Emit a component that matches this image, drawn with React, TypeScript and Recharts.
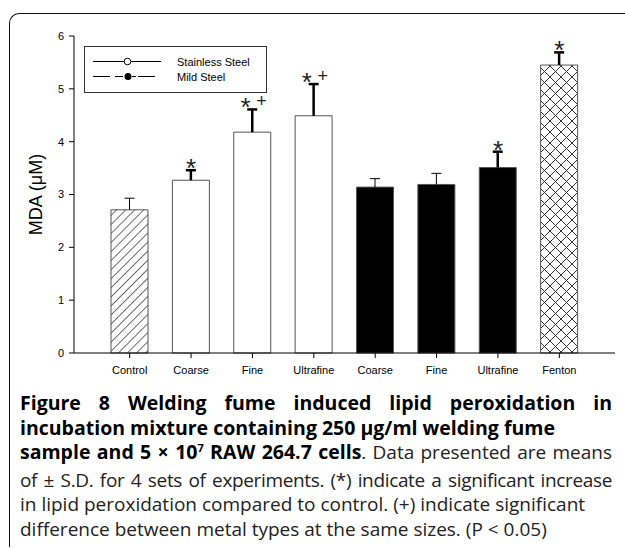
import React from "react"
import { Bar, Cell, ComposedChart, ErrorBar, LabelList, Legend, Line, XAxis, YAxis } from "recharts"

// values (MDA, µM)
const categories = ["Control", "Coarse", "Fine", "Ultrafine", "Coarse", "Fine", "Ultrafine", "Fenton"]
const groups = ["control", "stainless", "stainless", "stainless", "mild", "mild", "mild", "fenton"]
const means = [2.71, 3.27, 4.18, 4.49, 3.14, 3.19, 3.51, 5.45]
const sds = [0.22, 0.19, 0.43, 0.6, 0.16, 0.21, 0.3, 0.24]
const marks = ["", "*", "*+", "*+", "", "", "*", "*"]
const yTicks = [0, 1, 2, 3, 4, 5, 6]
const legendItems = ["Stainless Steel", "Mild Steel"]

const fills: Record<string, string> = {
    control: "url(#hatch)",
    stainless: "#ffffff",
    mild: "#000000",
    fenton: "url(#cross)"
}

const data = categories.map((name, i) => ({
    name,
    mean: means[i],
    thin: marks[i] ? null : [0, sds[i]],
    thick: marks[i] ? [0, sds[i]] : null,
    top: means[i] + sds[i],
    mark: marks[i]
}))

const font = "Arial, 'Liberation Sans', sans-serif"

const MarkLabel = (props: any) => {
    const { x, y, value } = props
    if (!value) return null
    const plus = value.includes("+")
    return (
        <g fontFamily={font} fill="#222">
            <text x={plus ? x - 7 : x} y={y + 7} fontSize={26} textAnchor="middle">*</text>
            {plus && <text x={x + 9} y={y - 2} fontSize={18} textAnchor="middle">+</text>}
        </g>
    )
}

const LegendBox = () => (
    <svg width={183} height={47} style={{ display: "block" }}>
        <rect x={0.5} y={0.5} width={182} height={46} fill="#fff" stroke="#333" />
        <line x1={9} y1={15.5} x2={77} y2={15.5} stroke="#000" />
        <circle cx={43.5} cy={15.5} r={3.3} fill="#fff" stroke="#000" />
        <g stroke="#000">
            <line x1={9} y1={30.5} x2={26} y2={30.5} />
            <line x1={31} y1={30.5} x2={39} y2={30.5} />
            <line x1={48} y1={30.5} x2={52} y2={30.5} />
            <line x1={54} y1={30.5} x2={71} y2={30.5} />
        </g>
        <circle cx={44} cy={30.5} r={3.5} fill="#000" />
        {legendItems.map((name, i) => (
            <text key={name} x={93} y={19.5 + i * 15} fontSize={11} fontFamily={font} fill="#000">{name}</text>
        ))}
    </svg>
)

const YLabel = (props: any) => {
    const vb = props.viewBox
    const cx = vb.x + 2
    const cy = vb.y + vb.height / 2
    return (
        <text x={cx} y={cy} transform={`rotate(-90 ${cx} ${cy})`} textAnchor="middle" dominantBaseline="central"
            fontSize={18} fontFamily={font} fill="#000">
            MDA (μM)
        </text>
    )
}

const line = { whiteSpace: "nowrap" as const }
const justified = { whiteSpace: "nowrap" as const, textAlign: "justify" as const, textAlignLast: "justify" as const }

export default function App() {
    return (
        <div style={{ position: "absolute", left: 0, top: 0, width: 625, height: 548, overflow: "hidden", background: "#fff" }}>
            <style>{`.recharts-errorBar line:nth-of-type(3){display:none}`}</style>
            <div style={{
                position: "absolute", left: 9, top: 13, width: 640, height: 533,
                borderTop: "1.5px solid #111", borderLeft: "1.5px solid #111", borderTopLeftRadius: 10
            }} />
            <div style={{ position: "absolute", left: 0, top: 0 }}>
                <ComposedChart width={625} height={383} data={data} margin={{ top: 36, right: 10, bottom: 0, left: 34 }}>
                    <defs>
                        <pattern id="hatch" patternUnits="userSpaceOnUse" width={6.4} height={6.4} patternTransform="rotate(45)">
                            <rect width={6.4} height={6.4} fill="#fff" />
                            <line x1={0} y1={0} x2={0} y2={6.4} stroke="#333" strokeWidth={1.4} />
                        </pattern>
                        <pattern id="cross" patternUnits="userSpaceOnUse" width={11} height={11}>
                            <rect width={11} height={11} fill="#fff" />
                            <line x1={0} y1={0} x2={11} y2={11} stroke="#333" strokeWidth={1} />
                            <line x1={0} y1={11} x2={11} y2={0} stroke="#333" strokeWidth={1} />
                        </pattern>
                    </defs>

                    <XAxis dataKey="name" padding={{ left: 25, right: 25 }} height={30} tickSize={5} tickMargin={8}
                        stroke="#000" tick={{ fontSize: 11, fill: "#000", fontFamily: font }} interval={0} />
                    <XAxis xAxisId="top" orientation="top" dataKey="name" height={0} tick={false} tickLine={false} stroke="#000" />
                    <YAxis domain={[0, 6]} ticks={yTicks} width={40} tickSize={5} tickMargin={5} stroke="#000"
                        tick={{ fontSize: 11, fill: "#000", fontFamily: font }}
                        label={{ content: YLabel }} />
                    <YAxis yAxisId="right" orientation="right" domain={[0, 6]} width={0} tick={false} tickLine={false} stroke="#000" />

                    <Legend verticalAlign="middle" align="center" layout="horizontal"
                        wrapperStyle={{ left: 84, top: 46, width: 183, height: 47 }} content={<LegendBox />} />

                    <Bar dataKey="mean" barSize={37} stroke="#555" strokeWidth={1} isAnimationActive={false} legendType="none">
                        {data.map((d, i) => (
                            <Cell key={i} fill={fills[groups[i]]} />
                        ))}
                        <ErrorBar dataKey="thin" direction="y" width={5} stroke="#000" strokeWidth={1} />
                        <ErrorBar dataKey="thick" direction="y" width={5} stroke="#000" strokeWidth={2.5} />
                    </Bar>
                    <Line dataKey="top" stroke="none" dot={false} activeDot={false} isAnimationActive={false} legendType="none">
                        <LabelList dataKey="mark" content={MarkLabel} />
                    </Line>
                </ComposedChart>
            </div>
            <div style={{
                position: "absolute", left: 20, top: 391, width: 592,
                fontFamily: "'Open Sans', sans-serif", fontSize: 19, lineHeight: "24.5px", color: "#222"
            }}>
                <div style={{ ...justified, fontSize: 19.5, fontWeight: 700, color: "#000" }}>
                    Figure 8 Welding fume induced lipid peroxidation in
                </div>
                <div style={{ ...line, fontSize: 19.5, fontWeight: 700, color: "#000" }}>
                    incubation mixture containing 250 μg/ml welding fume
                </div>
                <div style={justified}>
                    <b style={{ color: "#000", fontSize: 19.5 }}>sample and 5 × 10<span style={{ fontSize: 11, position: "relative", top: -7 }}>7</span> RAW 264.7 cells</b>. Data presented are means
                </div>
                <div style={{ ...justified, letterSpacing: -0.35 }}>
                    of ± S.D. for 4 sets of experiments. (*) indicate a significant increase
                </div>
                <div style={line}>
                    in lipid peroxidation compared to control. (+) indicate significant
                </div>
                <div style={line}>
                    difference between metal types at the same sizes. (P &lt; 0.05)
                </div>
            </div>
        </div>
    )
}
